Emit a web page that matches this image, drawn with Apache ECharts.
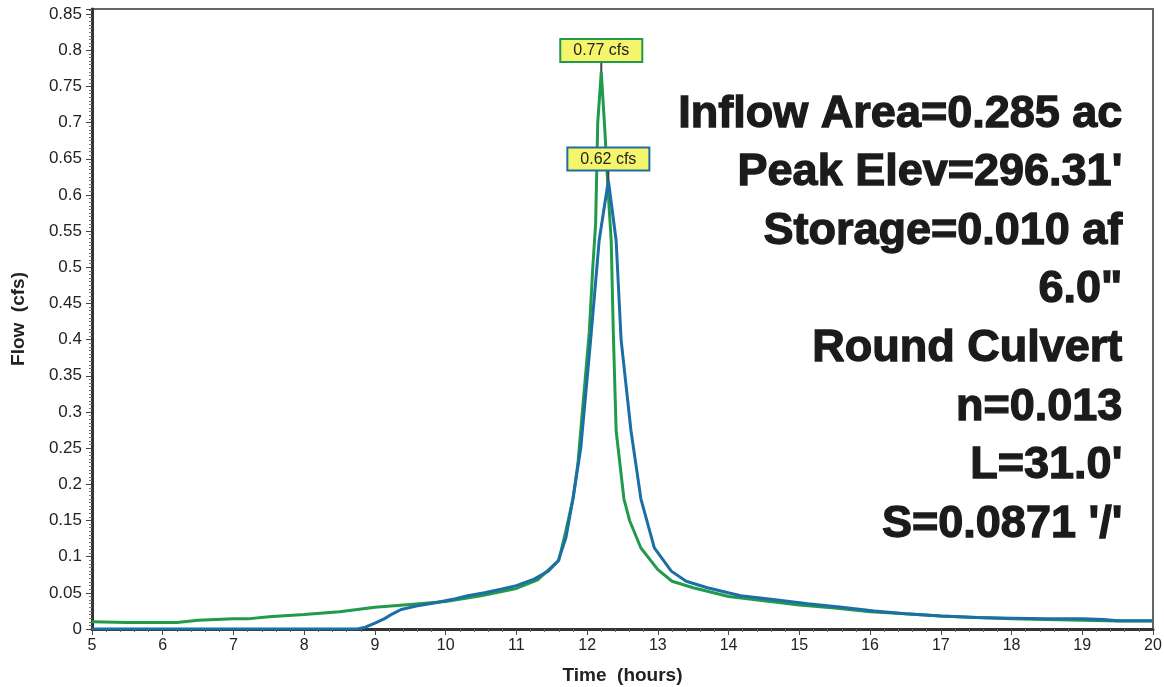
<!DOCTYPE html>
<html>
<head>
<meta charset="utf-8">
<script src="https://cdn.jsdelivr.net/npm/echarts@6/dist/echarts.min.js"></script>
<style>
  html, body { margin: 0; padding: 0; background: #fff; }
  #chart { width: 1164px; height: 687px; }
</style>
</head>
<body>
<div id="chart"></div>
<script>
// Hydrograph: inflow vs. primary outflow through a 6.0" culvert
const inflowTime = [5, 5.5, 6, 6.2, 6.5, 7, 7.2, 7.5, 8, 8.5, 9, 9.5, 10, 10.5, 11, 11.3, 11.6,
  11.7, 11.8, 11.87, 11.95, 12.03, 12.08, 12.12, 12.15, 12.2, 12.25, 12.3, 12.34, 12.37, 12.41,
  12.52, 12.6, 12.76, 13.0, 13.2, 13.5, 14, 14.5, 15, 15.5, 16, 16.5, 17, 17.5, 18, 18.5, 19, 19.5, 20];
const inflowFlow = [0.010, 0.009, 0.009, 0.009, 0.012, 0.014, 0.014, 0.017, 0.020, 0.024, 0.030, 0.034, 0.038, 0.046, 0.056, 0.068, 0.095,
  0.136, 0.180, 0.229, 0.320, 0.410, 0.500, 0.560, 0.700, 0.770, 0.690, 0.600, 0.537, 0.410, 0.274,
  0.180, 0.150, 0.112, 0.082, 0.066, 0.057, 0.045, 0.039, 0.033, 0.029, 0.024, 0.021, 0.018, 0.016, 0.014, 0.013, 0.012, 0.011, 0.011];

const outflowTime = [5, 8.75, 8.85, 9.0, 9.13, 9.25, 9.37, 9.6, 9.84, 10.1, 10.31, 10.55, 10.78, 11.0, 11.25, 11.45, 11.59,
  11.7, 11.8, 11.91, 12.05, 12.17, 12.3, 12.41, 12.48, 12.62, 12.76, 12.95, 13.19, 13.4, 13.7, 14.17, 14.6, 15.12,
  15.6, 16.06, 16.5, 17, 17.5, 18, 18.5, 19, 19.3, 19.5, 20];
const outflowFlow = [0, 0, 0.002, 0.008, 0.014, 0.021, 0.027, 0.032, 0.036, 0.041, 0.046, 0.050, 0.055, 0.060, 0.069, 0.080, 0.094,
  0.126, 0.180, 0.250, 0.400, 0.537, 0.620, 0.537, 0.400, 0.274, 0.180, 0.112, 0.080, 0.066, 0.057, 0.046, 0.041, 0.035,
  0.030, 0.025, 0.021, 0.018, 0.016, 0.015, 0.014, 0.014, 0.013, 0.0115, 0.0115];

const infoLines = ['Inflow Area=0.285 ac', "Peak Elev=296.31'", 'Storage=0.010 af', '6.0"',
  'Round Culvert', 'n=0.013', "L=31.0'", "S=0.0871 '/'"];

const GREEN = '#229a4b';
const BLUE = '#1c6ea6';
const FONT = '"Liberation Sans", Arial, sans-serif';

function pairs(ts, vs) { return ts.map((t, i) => [t, vs[i]]); }

// Peak callout: short leader above the peak and a yellow value box
function peakMark(color) {
  return {
    symbol: 'rect',
    symbolSize: [2, 11],
    symbolOffset: [0, -5.5],
    itemStyle: { color: '#444' },
    label: {
      show: true,
      position: 'top',
      distance: 0,
      formatter: p => p.value.toFixed(2) + ' cfs',
      fontFamily: FONT,
      fontSize: 16,
      color: '#222',
      backgroundColor: '#f5f56c',
      borderColor: color,
      borderWidth: 2,
      padding: [3, 12, 2, 12]
    },
    data: [{ type: 'max', valueIndex: 1 }]
  };
}

const chart = echarts.init(document.getElementById('chart'), null, { renderer: 'canvas' });

chart.setOption({
  backgroundColor: '#ffffff',
  animation: false,
  grid: {
    left: 92, right: 11, top: 9, bottom: 58,
    outerBoundsMode: 'none', containLabel: false,
    show: true, borderColor: '#666', borderWidth: 2
  },
  xAxis: {
    type: 'value', min: 5, max: 20, interval: 1,
    name: 'Time  (hours)', nameLocation: 'middle', nameGap: 37,
    nameTextStyle: { fontFamily: FONT, fontWeight: 'bold', fontSize: 19, color: '#222' },
    axisLine: { show: true, onZero: false, lineStyle: { color: '#333', width: 3 } },
    axisTick: { show: true, length: 6, lineStyle: { color: '#444', width: 1 } },
    minorTick: { show: true, splitNumber: 5, length: 3, lineStyle: { color: '#666' } },
    axisLabel: { fontFamily: FONT, fontSize: 16, color: '#222', margin: 9 },
    splitLine: { show: false }
  },
  yAxis: {
    type: 'value', min: 0, max: 0.857, interval: 0.05,
    name: 'Flow  (cfs)', nameLocation: 'middle', nameGap: 64, nameRotate: 90,
    nameTextStyle: { fontFamily: FONT, fontWeight: 'bold', fontSize: 19, color: '#222' },
    axisLine: { show: true, onZero: false, lineStyle: { color: '#333', width: 3 } },
    axisTick: { show: true, length: 6, lineStyle: { color: '#444', width: 1 } },
    minorTick: { show: true, splitNumber: 10, length: 3, lineStyle: { color: '#777' } },
    axisLabel: { fontFamily: FONT, fontSize: 17, color: '#222', margin: 10, showMaxLabel: false },
    splitLine: { show: false }
  },
  series: [
    {
      name: 'Inflow', type: 'line', data: pairs(inflowTime, inflowFlow),
      showSymbol: false, lineStyle: { color: GREEN, width: 3 }, itemStyle: { color: GREEN },
      markPoint: peakMark(GREEN), z: 2
    },
    {
      name: 'Primary', type: 'line', data: pairs(outflowTime, outflowFlow),
      showSymbol: false, lineStyle: { color: BLUE, width: 3 }, itemStyle: { color: BLUE },
      markPoint: peakMark(BLUE), z: 3
    }
  ],
  graphic: infoLines.map((t, i) => ({
    type: 'text',
    right: 1164 - 1123,
    top: 91 + i * 58.6,
    z: 10,
    style: {
      text: t,
      textAlign: 'right',
      fontFamily: FONT,
      fontWeight: 'bold',
      fontSize: 45,
      fill: '#1b1b1b',
      stroke: '#1b1b1b',
      lineWidth: 1.3
    }
  }))
});
</script>
</body>
</html>
